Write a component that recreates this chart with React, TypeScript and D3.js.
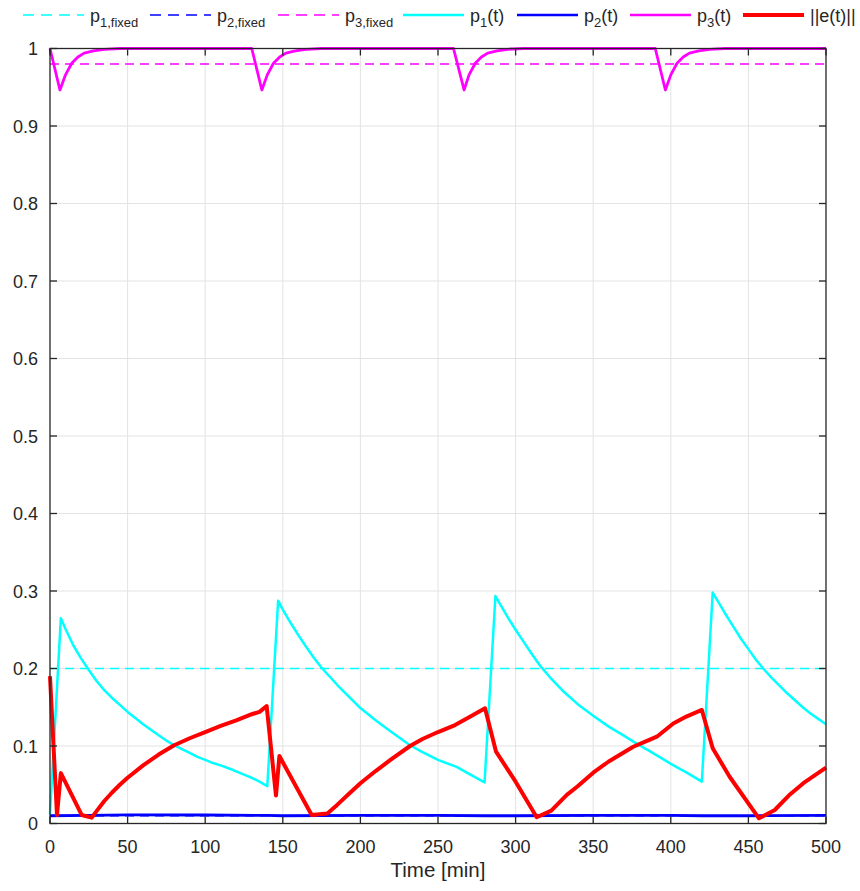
import React, { useEffect, useRef } from 'react'
import * as d3 from 'd3'

// values
const p1Fixed = 0.2
const p2Fixed = 0.01
const p3Fixed = 0.98

const p1Data: [number, number][] = [
  [0, 0.012], [7, 0.265], [10, 0.251], [15, 0.23], [20, 0.213], [25, 0.198], [30, 0.184], [35, 0.172],
  [40, 0.162], [45, 0.153], [50, 0.144], [55, 0.136], [60, 0.128], [65, 0.121], [70, 0.114], [75, 0.107],
  [80, 0.101], [85, 0.096], [90, 0.091], [95, 0.086], [100, 0.082], [105, 0.078], [110, 0.075],
  [118, 0.069], [125, 0.063], [130, 0.059], [135, 0.054], [140, 0.048],
  [147, 0.2875], [150, 0.276], [155, 0.259], [160, 0.243], [165, 0.228], [170, 0.214], [175, 0.201],
  [180, 0.19], [185, 0.179], [190, 0.169], [195, 0.159], [200, 0.149], [210, 0.133], [220, 0.118],
  [232, 0.101], [240, 0.092], [250, 0.082], [262, 0.073], [270, 0.064], [280, 0.053],
  [287, 0.2935], [290, 0.283], [295, 0.266], [300, 0.25], [305, 0.235], [310, 0.22], [316, 0.203],
  [322, 0.189], [330, 0.172], [340, 0.154], [350, 0.139], [360, 0.125], [370, 0.113], [378, 0.103],
  [385, 0.095], [391, 0.088], [400, 0.077], [410, 0.066], [420, 0.054],
  [427, 0.298], [430, 0.288], [435, 0.271], [440, 0.255], [445, 0.239], [450, 0.225], [455, 0.211],
  [460, 0.199], [465, 0.188], [470, 0.178], [475, 0.168], [480, 0.159], [485, 0.15], [490, 0.142],
  [495, 0.135], [500, 0.128],
]

const p2Data: [number, number][] = [
  [0, 0.01], [25, 0.0105], [50, 0.011], [100, 0.011], [140, 0.0105], [150, 0.01], [200, 0.0105],
  [250, 0.0105], [280, 0.01], [300, 0.01], [350, 0.0105], [400, 0.0105], [420, 0.01], [450, 0.01],
  [500, 0.0105],
]

const p3Data: [number, number][] = [
  [0, 1.0], [6.4, 0.9465], [10, 0.966], [14, 0.981], [18, 0.989], [22, 0.994], [28, 0.997], [35, 0.999],
  [45, 1.0], [130, 1.0], [136.5, 0.9465], [140, 0.966], [144, 0.981], [148, 0.989], [152, 0.994],
  [158, 0.997], [165, 0.999], [175, 1.0], [260, 1.0], [266.8, 0.9465], [270, 0.966], [274, 0.981],
  [278, 0.989], [282, 0.994], [288, 0.997], [295, 0.999], [305, 1.0], [390, 1.0], [396.5, 0.9465],
  [400, 0.966], [404, 0.981], [408, 0.989], [412, 0.994], [418, 0.997], [425, 0.999], [435, 1.0],
  [500, 1.0],
]

const errData: [number, number][] = [
  [0, 0.19], [4.5, 0.011], [7, 0.065], [20.4, 0.011], [26.8, 0.0075], [30, 0.016], [35, 0.029],
  [40, 0.04], [45, 0.05], [50, 0.059], [60, 0.075], [70, 0.089], [80, 0.101], [90, 0.11], [100, 0.118],
  [110, 0.126], [120, 0.133], [130, 0.141], [135, 0.144], [139.6, 0.1516], [145.6, 0.036],
  [147.8, 0.087], [168.6, 0.011], [178.7, 0.013], [185, 0.024], [193, 0.039], [200, 0.052],
  [210, 0.068], [220, 0.083], [232, 0.1], [240, 0.109], [250, 0.118], [261, 0.127], [270, 0.137],
  [280.3, 0.1486], [287.4, 0.0927], [300, 0.054], [313.6, 0.008], [323, 0.0166], [333, 0.037],
  [340, 0.048], [350, 0.0656], [360, 0.08], [375.8, 0.099], [385, 0.107], [391, 0.112], [401.6, 0.129],
  [410, 0.138], [420, 0.1465], [427, 0.097], [438, 0.06], [456.8, 0.0067], [467, 0.0174], [476, 0.036],
  [485.4, 0.052], [500, 0.072],
]

const xTicks = [0, 50, 100, 150, 200, 250, 300, 350, 400, 450, 500]
const yTicks = [0, 0.1, 0.2, 0.3, 0.4, 0.5, 0.6, 0.7, 0.8, 0.9, 1]

const legendItems = [
  { base: 'p', sub: '1,fixed', tail: '', color: '#00ffff', dash: true, width: 1.5 },
  { base: 'p', sub: '2,fixed', tail: '', color: '#0000ff', dash: true, width: 1.5 },
  { base: 'p', sub: '3,fixed', tail: '', color: '#ff00ff', dash: true, width: 1.5 },
  { base: 'p', sub: '1', tail: '(t)', color: '#00ffff', dash: false, width: 2.5 },
  { base: 'p', sub: '2', tail: '(t)', color: '#0000ff', dash: false, width: 2.5 },
  { base: 'p', sub: '3', tail: '(t)', color: '#ff00ff', dash: false, width: 2.5 },
  { base: '||e(t)||', sub: '', tail: '', color: '#ff0000', dash: false, width: 4 },
]
const legendX = [23, 150, 278, 403, 517, 630, 743]

export default function App() {
  const ref = useRef<SVGSVGElement>(null)

  useEffect(() => {
    const width = 860
    const height = 891
    const left = 50, right = 826, top = 48.5, bottom = 823.5
    const ink = '#262626'
    const font = '"Liberation Sans", Arial, Helvetica, sans-serif'

    const svg = d3.select(ref.current)
    svg.selectAll('*').remove()
    svg.attr('width', width).attr('height', height)

    const x = d3.scaleLinear().domain([0, 500]).range([left, right])
    const y = d3.scaleLinear().domain([0, 1]).range([bottom, top])

    svg.append('rect').attr('width', width).attr('height', height).attr('fill', '#fff')

    // grid
    const grid = svg.append('g').attr('stroke', '#e3e3e3').attr('stroke-width', 1)
    xTicks.slice(1, -1).forEach(t => {
      grid.append('line').attr('x1', x(t)).attr('x2', x(t)).attr('y1', top).attr('y2', bottom)
    })
    yTicks.slice(1, -1).forEach(t => {
      grid.append('line').attr('x1', left).attr('x2', right).attr('y1', y(t)).attr('y2', y(t))
    })

    const line = d3.line<[number, number]>().x(d => x(d[0])).y(d => y(d[1]))
    const plot = svg.append('g').attr('fill', 'none').attr('stroke-linejoin', 'round')

    const fixed = [
      { v: p1Fixed, color: '#00ffff' },
      { v: p2Fixed, color: '#0000ff' },
      { v: p3Fixed, color: '#ff00ff' },
    ]
    fixed.forEach(f => {
      plot.append('path')
        .attr('d', line([[0, f.v], [500, f.v]]))
        .attr('stroke', f.color)
        .attr('stroke-width', 1.5)
        .attr('stroke-dasharray', '9,6')
    })

    const series = [
      { data: p1Data, color: '#00ffff', w: 2.5 },
      { data: p2Data, color: '#0000ff', w: 2.8 },
      { data: p3Data, color: '#ff00ff', w: 2.8 },
      { data: errData, color: '#ff0000', w: 4 },
    ]
    series.forEach(s => {
      plot.append('path')
        .attr('d', line(s.data))
        .attr('stroke', s.color)
        .attr('stroke-width', s.w)
    })

    // axes box and ticks
    const axes = svg.append('g').attr('stroke', ink).attr('stroke-width', 1.3)
    axes.append('rect')
      .attr('x', left).attr('y', top)
      .attr('width', right - left).attr('height', bottom - top)
      .attr('fill', 'none')
    const tl = 7
    xTicks.forEach(t => {
      axes.append('line').attr('x1', x(t)).attr('x2', x(t)).attr('y1', bottom).attr('y2', bottom - tl)
      axes.append('line').attr('x1', x(t)).attr('x2', x(t)).attr('y1', top).attr('y2', top + tl)
    })
    yTicks.forEach(t => {
      axes.append('line').attr('x1', left).attr('x2', left + tl).attr('y1', y(t)).attr('y2', y(t))
      axes.append('line').attr('x1', right).attr('x2', right - tl).attr('y1', y(t)).attr('y2', y(t))
    })

    const labels = svg.append('g').attr('font-family', font).attr('fill', ink)
    xTicks.forEach(t => {
      labels.append('text')
        .attr('x', x(t)).attr('y', bottom + 29)
        .attr('text-anchor', 'middle').attr('font-size', 18)
        .text(String(t))
    })
    yTicks.forEach(t => {
      labels.append('text')
        .attr('x', left - 12).attr('y', y(t) + 6.5)
        .attr('text-anchor', 'end').attr('font-size', 18)
        .text(String(t))
    })
    labels.append('text')
      .attr('x', (left + right) / 2).attr('y', 877)
      .attr('text-anchor', 'middle').attr('font-size', 20.5)
      .text('Time [min]')

    // legend
    const lg = svg.append('g').attr('font-family', font).attr('fill', ink)
    legendItems.forEach((it, i) => {
      const lx = legendX[i]
      lg.append('line')
        .attr('x1', lx).attr('x2', lx + 61).attr('y1', 15).attr('y2', 15)
        .attr('stroke', it.color).attr('stroke-width', it.width)
        .attr('stroke-dasharray', it.dash ? '11,7' : null)
      const txt = lg.append('text').attr('x', lx + 67).attr('y', 22).attr('font-size', 18)
      txt.append('tspan').text(it.base)
      if (it.sub) {
        txt.append('tspan').attr('font-size', 13).attr('dy', 5).text(it.sub)
      }
      if (it.tail) {
        txt.append('tspan').attr('dy', -5).text(it.tail)
      }
    })
  }, [])

  return (
    <svg ref={ref} style={{ position: 'absolute', left: 0, top: 0, display: 'block' }} />
  )
}
